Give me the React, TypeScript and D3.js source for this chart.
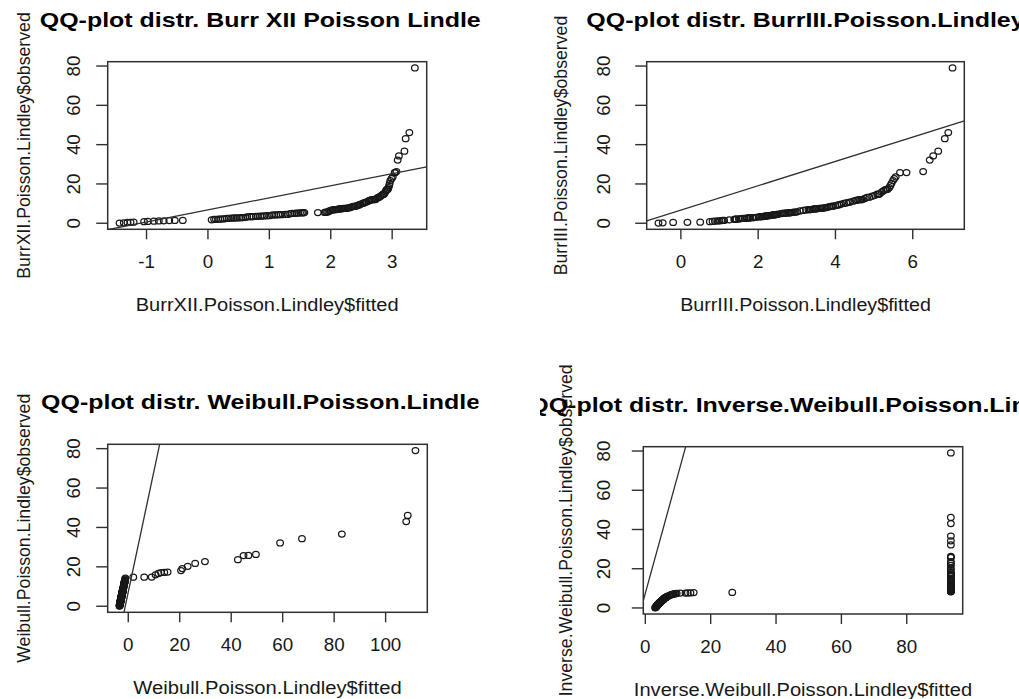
import React from "react";
import * as d3 from "d3";

// Sorted remission times (observed sample quantiles), shared by all four QQ-plots
const observed = [
  0.08, 0.2, 0.4, 0.5, 0.51, 0.81, 0.9, 1.05, 1.19, 1.26,
  1.35, 1.4, 1.46, 1.76, 2.02, 2.02, 2.07, 2.09, 2.23, 2.26,
  2.46, 2.54, 2.62, 2.64, 2.69, 2.69, 2.75, 2.83, 2.87, 3.02,
  3.25, 3.31, 3.36, 3.36, 3.48, 3.52, 3.57, 3.64, 3.7, 3.82,
  3.88, 4.18, 4.23, 4.26, 4.33, 4.34, 4.4, 4.5, 4.51, 4.87,
  4.98, 5.06, 5.09, 5.17, 5.32, 5.32, 5.34, 5.41, 5.41, 5.49,
  5.62, 5.71, 5.85, 6.25, 6.54, 6.76, 6.93, 6.94, 6.97, 7.09,
  7.26, 7.28, 7.32, 7.39, 7.59, 7.62, 7.63, 7.66, 7.87, 7.93,
  8.26, 8.37, 8.53, 8.65, 8.66, 9.02, 9.22, 9.47, 9.74, 10.06,
  10.34, 10.66, 10.75, 11.25, 11.64, 11.79, 11.98, 12.02, 12.03, 12.07,
  12.63, 13.11, 13.29, 13.8, 14.24, 14.76, 14.77, 14.83, 15.96, 16.62,
  17.12, 17.14, 17.36, 18.1, 19.13, 20.28, 21.73, 22.69, 23.63, 25.74,
  25.82, 26.31, 32.15, 34.26, 36.66, 43.01, 46.12, 79.05,
];

// Fitted quantiles of each model
const fittedBurrXII = [
  -1.44, -1.37, -1.31, -1.26, -1.21, -1.04, -0.98, -0.88, -0.8, -0.72,
  -0.63, -0.54, -0.41, 0.06, 0.1, 0.13, 0.17, 0.2, 0.24, 0.27,
  0.31, 0.34, 0.38, 0.41, 0.44, 0.47, 0.51, 0.54, 0.57, 0.61,
  0.64, 0.68, 0.71, 0.74, 0.78, 0.81, 0.85, 0.88, 0.92, 0.96,
  1.0, 1.04, 1.08, 1.11, 1.15, 1.18, 1.22, 1.26, 1.3, 1.34,
  1.37, 1.41, 1.44, 1.47, 1.5, 1.53, 1.55, 1.57, 1.79, 1.9,
  1.92, 1.94, 1.96, 1.98, 2.0, 2.03, 2.05, 2.07, 2.09, 2.11,
  2.13, 2.15, 2.17, 2.19, 2.21, 2.23, 2.25, 2.27, 2.29, 2.31,
  2.33, 2.35, 2.37, 2.39, 2.41, 2.43, 2.45, 2.47, 2.49, 2.52,
  2.54, 2.56, 2.58, 2.61, 2.63, 2.65, 2.67, 2.69, 2.71, 2.73,
  2.75, 2.77, 2.79, 2.81, 2.83, 2.85, 2.86, 2.87, 2.89, 2.9,
  2.91, 2.92, 2.93, 2.94, 2.95, 2.96, 2.97, 2.99, 3.01, 3.04,
  3.05, 3.07, 3.09, 3.11, 3.2, 3.22, 3.28, 3.37,
];

const fittedBurrIII = [
  -0.58, -0.47, -0.2, 0.17, 0.5, 0.75, 0.82, 0.88, 0.95, 1.0,
  1.05, 1.08, 1.12, 1.25, 1.38, 1.4, 1.42, 1.44, 1.5, 1.53,
  1.6, 1.65, 1.7, 1.72, 1.75, 1.77, 1.8, 1.85, 1.88, 1.95,
  2.02, 2.05, 2.08, 2.1, 2.14, 2.16, 2.18, 2.2, 2.22, 2.26,
  2.28, 2.36, 2.38, 2.4, 2.42, 2.44, 2.46, 2.48, 2.5, 2.58,
  2.62, 2.66, 2.69, 2.72, 2.77, 2.79, 2.81, 2.84, 2.86, 2.89,
  2.93, 2.97, 3.01, 3.08, 3.17, 3.24, 3.3, 3.33, 3.36, 3.4,
  3.44, 3.47, 3.5, 3.53, 3.58, 3.61, 3.64, 3.67, 3.71, 3.75,
  3.8, 3.84, 3.88, 3.91, 3.94, 4.0, 4.05, 4.1, 4.15, 4.22,
  4.28, 4.34, 4.38, 4.46, 4.53, 4.57, 4.61, 4.64, 4.67, 4.7,
  4.76, 4.82, 4.88, 4.95, 5.02, 5.08, 5.11, 5.14, 5.2, 5.25,
  5.29, 5.32, 5.35, 5.39, 5.42, 5.45, 5.49, 5.52, 5.56, 5.67,
  5.84, 6.27, 6.44, 6.53, 6.66, 6.83, 6.92, 7.03,
];

const fittedWeibull = [
  -3.39, -3.37, -3.34, -3.32, -3.32, -3.27, -3.26, -3.23, -3.21, -3.2,
  -3.18, -3.18, -3.17, -3.12, -3.08, -3.08, -3.07, -3.07, -3.04, -3.04,
  -3.01, -2.99, -2.98, -2.98, -2.97, -2.97, -2.96, -2.95, -2.94, -2.92,
  -2.88, -2.87, -2.86, -2.86, -2.84, -2.84, -2.83, -2.82, -2.81, -2.79,
  -2.78, -2.73, -2.72, -2.72, -2.71, -2.71, -2.7, -2.68, -2.68, -2.62,
  -2.6, -2.59, -2.59, -2.57, -2.55, -2.55, -2.55, -2.53, -2.53, -2.52,
  -2.5, -2.49, -2.46, -2.4, -2.35, -2.32, -2.29, -2.29, -2.28, -2.27,
  -2.24, -2.24, -2.23, -2.22, -2.19, -2.18, -2.18, -2.17, -2.14, -2.13,
  -2.08, -2.06, -2.04, -2.02, -2.01, -1.96, -1.92, -1.88, -1.84, -1.79,
  -1.75, -1.69, -1.68, -1.6, -1.54, -1.51, -1.48, -1.48, -1.47, -1.47,
  -1.38, -1.3, -1.27, -1.19, -1.12, 1.95, 6.2, 9.1, 10.6, 11.7,
  12.7, 14.0, 15.3, 20.5, 21.0, 23.1, 26.0, 29.8, 42.6, 44.8,
  46.7, 49.6, 59.0, 67.5, 83.0, 108.0, 108.6, 111.6,
];

const fittedInvWeibull = [
  3.0, 3.08, 3.2, 3.26, 3.27, 3.4, 3.45, 3.52, 3.58, 3.62,
  3.66, 3.69, 3.72, 3.85, 4.0, 4.01, 4.03, 4.05, 4.1, 4.12,
  4.22, 4.26, 4.31, 4.32, 4.36, 4.37, 4.41, 4.46, 4.5, 4.61,
  4.75, 4.79, 4.82, 4.83, 4.89, 4.91, 4.95, 5.0, 5.06, 5.16,
  5.21, 5.41, 5.44, 5.46, 5.5, 5.51, 5.54, 5.6, 5.61, 5.82,
  5.89, 5.96, 5.99, 6.07, 6.22, 6.23, 6.24, 6.31, 6.32, 6.39,
  6.52, 6.61, 6.75, 7.2, 7.57, 7.93, 8.27, 8.29, 8.35, 8.6,
  9.1, 9.16, 9.3, 9.6, 10.7, 12.3, 13.0, 13.8, 14.8, 26.6,
  93.5, 93.5, 93.5, 93.5, 93.5, 93.5, 93.5, 93.5, 93.5, 93.5,
  93.5, 93.5, 93.5, 93.5, 93.5, 93.5, 93.5, 93.5, 93.5, 93.5,
  93.5, 93.5, 93.5, 93.5, 93.5, 93.5, 93.5, 93.5, 93.5, 93.5,
  93.5, 93.5, 93.5, 93.5, 93.5, 93.5, 93.5, 93.5, 93.5, 93.5,
  93.5, 93.5, 93.5, 93.5, 93.5, 93.5, 93.5, 93.5,
];

const yTicks = [0, 20, 40, 60, 80];
const xTicksBurrXII = [-1, 0, 1, 2, 3];
const xTicksBurrIII = [0, 2, 4, 6];
const xTicksWeibull = [0, 20, 40, 60, 80, 100];
const xTicksInvWeibull = [0, 20, 40, 60, 80];

const titles = [
  "QQ-plot distr. Burr XII Poisson Lindley",
  "QQ-plot distr. BurrIII.Poisson.Lindley",
  "QQ-plot distr. Weibull.Poisson.Lindley",
  "QQ-plot distr. Inverse.Weibull.Poisson.Lindley",
];
const xLabels = [
  "BurrXII.Poisson.Lindley$fitted",
  "BurrIII.Poisson.Lindley$fitted",
  "Weibull.Poisson.Lindley$fitted",
  "Inverse.Weibull.Poisson.Lindley$fitted",
];
const yLabels = [
  "BurrXII.Poisson.Lindley$observed",
  "BurrIII.Poisson.Lindley$observed",
  "Weibull.Poisson.Lindley$observed",
  "Inverse.Weibull.Poisson.Lindley$observed",
];

// Reference line (intercept, slope) of each panel
const refIntercepts = [6.8, 6.7, 7.2, 7.5];
const refSlopes = [6.16, 6.19, 6.15, 6.05];

const FONT = '"Liberation Sans", Arial, Helvetica, sans-serif';
const INK = "#181818";
const LINE = "#303030";

// R-style axis range: data extent widened by 4% on each side
function rRange(values: number[]): [number, number] {
  const [lo, hi] = d3.extent(values) as [number, number];
  const r = hi - lo;
  return [lo - 0.04 * r, hi + 0.04 * r];
}

const layouts = [
  { box: { l: 107.7, r: 426.7, t: 61.7, b: 229.3 }, titleY: 26.5, titleW: 454.8, clip: [0, 481],
    xLabY: 310.8, xLabW: 263, xTickY: 268.3, yTickX: 80, yLabX: 29.5 },
  { box: { l: 646.7, r: 964.3, t: 61.7, b: 229.3 }, titleY: 26.5, titleW: 438.3, clip: [551, 1019],
    xLabY: 310.8, xLabW: 250.7, xTickY: 268.3, yTickX: 610, yLabX: 567 },
  { box: { l: 107.7, r: 427.3, t: 444.3, b: 612.3 }, titleY: 409, titleW: 452.8, clip: [0, 478.5],
    xLabY: 693.5, xLabW: 268.3, xTickY: 650.5, yTickX: 80, yLabX: 29.5 },
  { box: { l: 643.3, r: 962.7, t: 446.7, b: 614 }, titleY: 412, titleW: 547.5, clip: [540, 1019],
    xLabY: 695.8, xLabW: 338.3, xTickY: 653, yTickX: 610, yLabX: 572 },
];

const fittedSets = [fittedBurrXII, fittedBurrIII, fittedWeibull, fittedInvWeibull];
const xTickSets = [xTicksBurrXII, xTicksBurrIII, xTicksWeibull, xTicksInvWeibull];

function QQPanel({ idx }: { idx: number }) {
  const L = layouts[idx];
  const fitted = fittedSets[idx];
  const { box } = L;
  const x = d3.scaleLinear().domain(rRange(fitted)).range([box.l, box.r]);
  const y = d3.scaleLinear().domain(rRange(observed)).range([box.b, box.t]);
  const a = refIntercepts[idx];
  const b = refSlopes[idx];
  const [x0, x1] = x.domain();
  const ref = d3.line<number>().x((v) => x(v)).y((v) => y(a + b * v));
  const cx = (box.l + box.r) / 2;
  const cy = (box.t + box.b) / 2;
  const n = Math.min(observed.length, fitted.length);
  const pts = d3.range(n).map((i) => [fitted[i], observed[i]]);

  return (
    <g>
      <defs>
        <clipPath id={`plot-${idx}`}>
          <rect x={box.l} y={box.t} width={box.r - box.l} height={box.b - box.t} />
        </clipPath>
        <clipPath id={`fig-${idx}`}>
          <rect x={L.clip[0]} y={0} width={L.clip[1] - L.clip[0]} height={699} />
        </clipPath>
      </defs>

      {/* points */}
      {pts.map(([fx, oy], i) => (
        <ellipse key={i} cx={x(fx)} cy={y(oy)} rx={3.3} ry={3.0}
          fill="none" stroke={INK} strokeWidth={1.25} />
      ))}

      {/* reference line */}
      <path d={ref([x0, x1]) || ""} fill="none" stroke={LINE} strokeWidth={1.3}
        clipPath={`url(#plot-${idx})`} />

      {/* frame */}
      <rect x={box.l} y={box.t} width={box.r - box.l} height={box.b - box.t}
        fill="none" stroke={LINE} strokeWidth={1.5} />

      {/* x axis */}
      {xTickSets[idx].map((t) => (
        <g key={`xt${t}`}>
          <line x1={x(t)} x2={x(t)} y1={box.b} y2={box.b + 10} stroke={LINE} strokeWidth={1.4} />
          <text x={x(t)} y={L.xTickY} textAnchor="middle" fontFamily={FONT} fontSize={18.8} fill={INK}>
            {t}
          </text>
        </g>
      ))}

      {/* y axis */}
      {yTicks.map((t) => (
        <g key={`yt${t}`}>
          <line x1={box.l - 11.5} x2={box.l} y1={y(t)} y2={y(t)} stroke={LINE} strokeWidth={1.4} />
          <text transform={`translate(${L.yTickX},${y(t)}) rotate(-90)`} textAnchor="middle"
            fontFamily={FONT} fontSize={18.8} fill={INK}>
            {t}
          </text>
        </g>
      ))}

      {/* axis titles */}
      <text x={cx - L.xLabW / 2} y={L.xLabY} textLength={L.xLabW} lengthAdjust="spacingAndGlyphs"
        fontFamily={FONT} fontSize={17.5} fill={INK}>
        {xLabels[idx]}
      </text>
      <text transform={`translate(${L.yLabX},${cy}) rotate(-90)`} textAnchor="middle"
        fontFamily={FONT} fontSize={17.7} fill={INK}>
        {yLabels[idx]}
      </text>

      {/* main title */}
      <g clipPath={`url(#fig-${idx})`}>
        <text x={cx - L.titleW / 2} y={L.titleY} textLength={L.titleW} lengthAdjust="spacingAndGlyphs"
          fontFamily={FONT} fontWeight="bold" fontSize={20.8} fill="#000">
          {titles[idx]}
        </text>
      </g>
    </g>
  );
}

export default function App() {
  return (
    <svg width={1019} height={699} viewBox="0 0 1019 699"
      style={{ position: "absolute", left: 0, top: 0, display: "block", background: "#fff" }}>
      <rect x={0} y={0} width={1019} height={699} fill="#fff" />
      {[0, 1, 2, 3].map((i) => (
        <QQPanel key={i} idx={i} />
      ))}
    </svg>
  );
}
